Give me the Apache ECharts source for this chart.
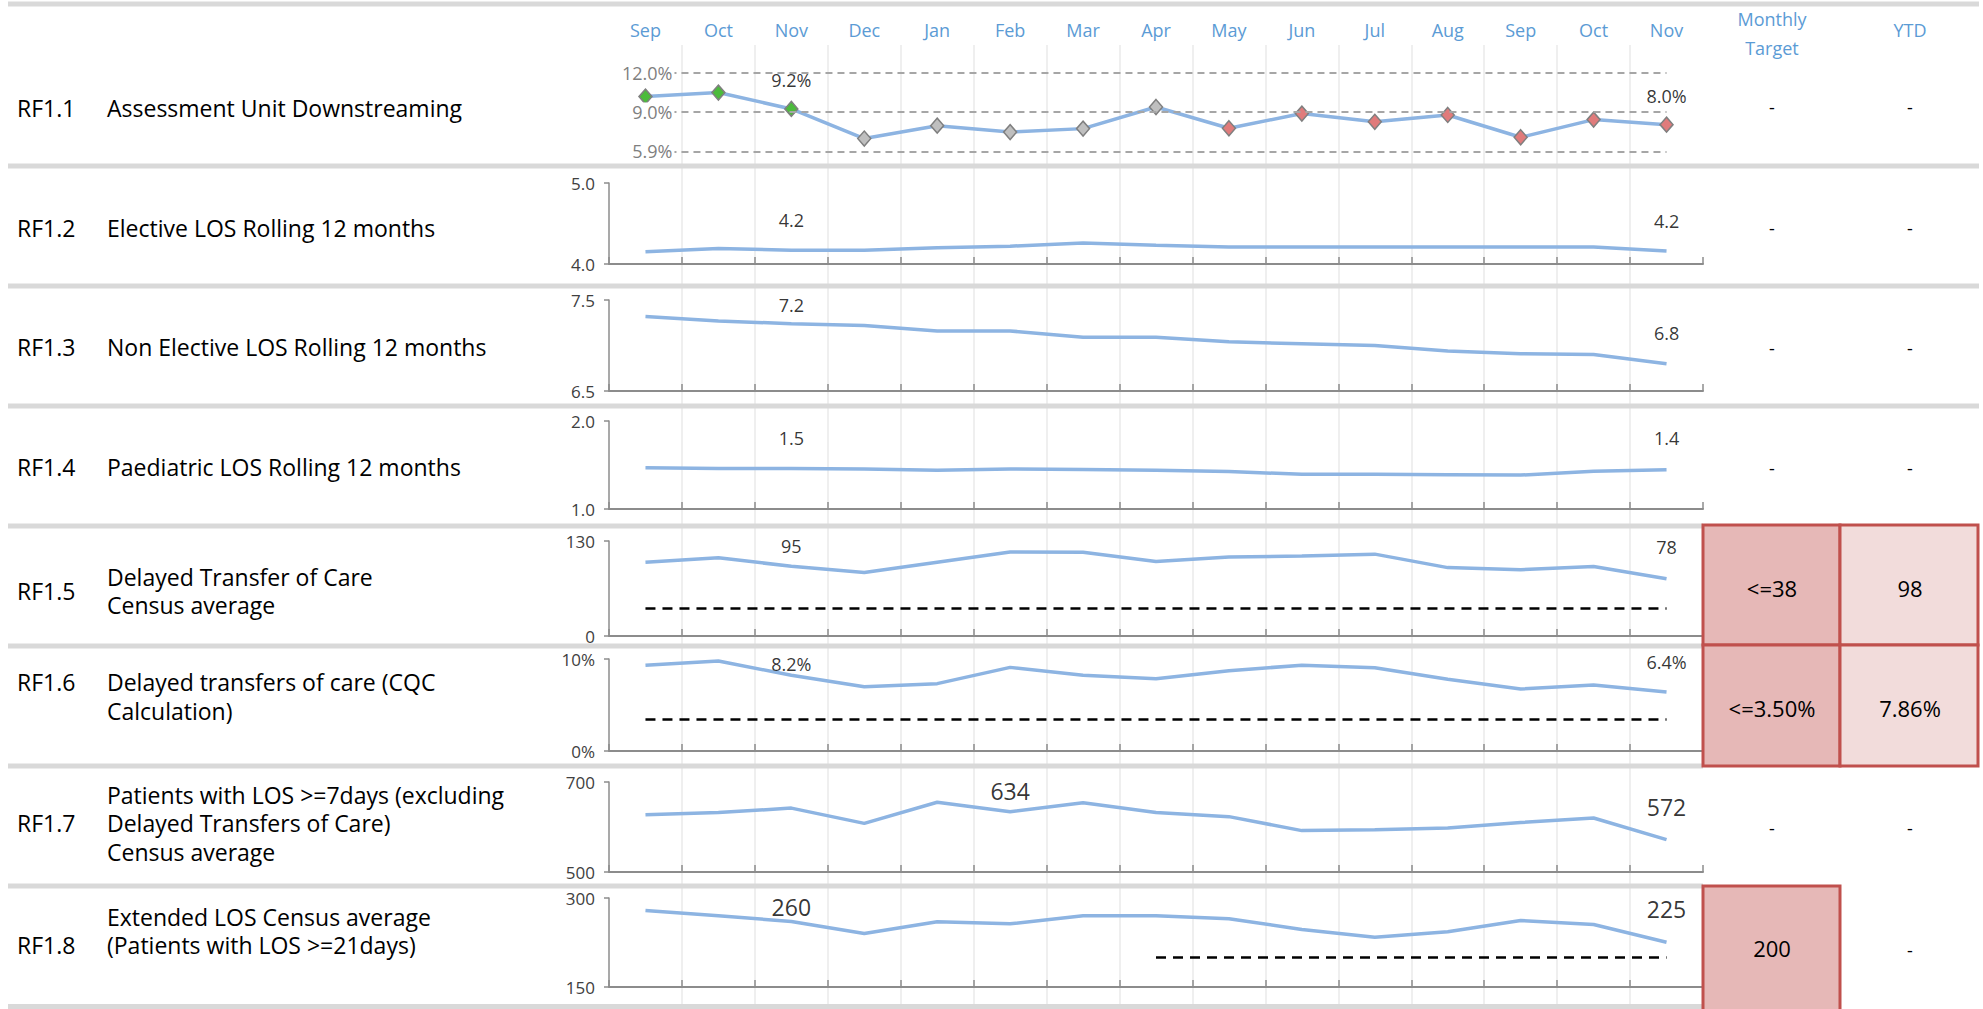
<!DOCTYPE html>
<html>
<head>
<meta charset="utf-8">
<script src="https://cdn.jsdelivr.net/npm/echarts@6/dist/echarts.min.js"></script>
<style>
html,body{margin:0;padding:0;background:#fff;}
#chart{width:1983px;height:1009px;}
</style>
</head>
<body>
<div id="chart"></div>
<script>
// ---------------- DATA ----------------
const months = ['Sep','Oct','Nov','Dec','Jan','Feb','Mar','Apr','May','Jun','Jul','Aug','Sep','Oct','Nov'];
const codes = ['RF1.1','RF1.2','RF1.3','RF1.4','RF1.5','RF1.6','RF1.7','RF1.8'];
const names = [
  'Assessment Unit Downstreaming',
  'Elective LOS Rolling 12 months',
  'Non Elective LOS Rolling 12 months',
  'Paediatric LOS Rolling 12 months',
  'Delayed Transfer of Care\nCensus average',
  'Delayed transfers of care (CQC\nCalculation)',
  'Patients with LOS >=7days (excluding\nDelayed Transfers of Care)\nCensus average',
  'Extended LOS Census average\n(Patients with LOS >=21days)'
];
const rf11 = [10.16, 10.47, 9.2, 6.9, 7.9, 7.4, 7.67, 9.35, 7.7, 8.84, 8.2, 8.73, 7.0, 8.37, 7.98];
const rf11Status = ['g','g','g','n','n','n','n','n','r','r','r','r','r','r','r'];
const rf11Bands = [12.0, 9.0, 5.9];
const rf12 = [4.15, 4.19, 4.17, 4.17, 4.20, 4.22, 4.26, 4.23, 4.21, 4.21, 4.21, 4.21, 4.21, 4.21, 4.16];
const rf13 = [7.32, 7.27, 7.24, 7.22, 7.16, 7.16, 7.09, 7.09, 7.04, 7.02, 7.00, 6.94, 6.91, 6.90, 6.80];
const rf14 = [1.47, 1.46, 1.46, 1.455, 1.44, 1.455, 1.45, 1.44, 1.425, 1.395, 1.395, 1.39, 1.385, 1.43, 1.445];
const rf15 = [101, 107, 95.4, 87, 101, 115, 114.5, 102, 108, 109.5, 112, 93.6, 90.8, 95, 78.4];
const rf16 = [9.32, 9.78, 8.23, 6.99, 7.32, 9.09, 8.23, 7.86, 8.73, 9.32, 9.05, 7.79, 6.74, 7.17, 6.41];
const rf17 = [627, 632, 642, 608, 655, 634, 654, 632, 623, 592, 594, 598, 610, 620, 572];
const rf18 = [279, 270, 260.4, 240, 260, 256.5, 270, 270, 265, 247, 234, 243, 262, 255.4, 225.4];
const rf15Target = 38;
const rf16Target = 3.5;
const rf18Target = 200;
const rf18TargetFrom = 7;   // target line starts at Apr
const axisMin = [5, 4.0, 6.5, 1.0, 0, 0, 500, 150];
const axisMax = [13, 5.0, 7.5, 2.0, 130, 10, 700, 300];
const labelIdx = [[2,14],[2,14],[2,14],[2,14],[2,14],[2,14],[5,14],[2,14]];
const monthlyTarget = ['-','-','-','-','<=38','<=3.50%','-','200'];
const ytdValues = ['-','-','-','-','98','7.86%','-','-'];

// ---------------- STYLE / LAYOUT ----------------
const FONT = '"Open Sans", "Liberation Sans", sans-serif';
const BLUE_LINE = '#8db4e2';
const AXIS_GRAY = '#8c8c8c';
const HEADER_BLUE = '#5b9bd5';
const PLOT_LEFT = 609, PLOT_W = 1094;
const rowGrid = [
  {top: 60, height: 103},
  {top: 183, height: 81},
  {top: 300, height: 91},
  {top: 421, height: 88},
  {top: 541, height: 95},
  {top: 659, height: 92},
  {top: 782, height: 90},
  {top: 898, height: 89}
];
const labelDy = [[20,36],[37,38],[5,33],[17,17],[5,6],[5,3],[9,25],[9,11]];
const labelSize = [18,18,18,18,18,18,23,23];
const rowTextY = [108, 228, 347, 467, 591, 696.5, 823, 931];
const codeY    = [108, 228, 347, 467, 591, 682, 823, 945];
const dashY    = [107, 228, 348, 468, 588, 708, 828, 950];
const statusColor = {g: '#4cbb3c', n: '#bfbfbf', r: '#e07b7b'};

const seriesValues = [rf11, rf12, rf13, rf14, rf15, rf16, rf17, rf18];
const fmt = [
  v => v.toFixed(1) + '%',
  v => v.toFixed(1),
  v => v.toFixed(1),
  v => v.toFixed(1),
  v => v.toFixed(0),
  v => v.toFixed(1) + '%',
  v => v.toFixed(0),
  v => v.toFixed(0)
];
const axisFmt = [
  v => v,
  v => v.toFixed(1),
  v => v.toFixed(1),
  v => v.toFixed(1),
  v => String(v),
  v => v + '%',
  v => String(v),
  v => String(v)
];

// ---------------- BUILD OPTION ----------------
const grid = [{left: PLOT_LEFT, top: 45, width: PLOT_W, height: 962}];
const xAxis = [{
  gridIndex: 0, type: 'category', data: months, position: 'top', boundaryGap: true,
  axisLine: {show: false}, axisTick: {show: false},
  axisLabel: {interval: 0, color: HEADER_BLUE, fontSize: 18, fontFamily: FONT, margin: 6},
  splitLine: {show: true, interval: 0, showMinLine: false, showMaxLine: false,
              lineStyle: {color: '#efefef', width: 2}}
}];
const yAxis = [{gridIndex: 0, type: 'value', show: false, min: 0, max: 1}];
const series = [];

rowGrid.forEach((g, r) => {
  const gi = r + 1;
  grid.push({left: PLOT_LEFT, width: PLOT_W, top: g.top, height: g.height});
  if (r === 0) {
    xAxis.push({gridIndex: gi, type: 'category', data: months, boundaryGap: true, show: false});
    yAxis.push({gridIndex: gi, type: 'value', min: axisMin[0], max: axisMax[0], show: false});
  } else {
    xAxis.push({
      gridIndex: gi, type: 'category', data: months, boundaryGap: true,
      axisLine: {show: true, lineStyle: {color: AXIS_GRAY, width: 2}},
      axisTick: {show: true, inside: true, length: 7, interval: 0, lineStyle: {color: AXIS_GRAY, width: 1.5}},
      axisLabel: {show: false}, splitLine: {show: false}
    });
    yAxis.push({
      gridIndex: gi, type: 'value', min: axisMin[r], max: axisMax[r],
      axisLine: {show: true, lineStyle: {color: AXIS_GRAY, width: 1.5}},
      axisTick: {show: true, length: 5, customValues: [axisMin[r], axisMax[r]], lineStyle: {color: AXIS_GRAY, width: 1.5}},
      axisLabel: {customValues: [axisMin[r], axisMax[r]], formatter: axisFmt[r], fontSize: 17,
                  color: '#404040', fontFamily: FONT, margin: 14},
      splitLine: {show: false}
    });
  }
  const vals = seriesValues[r];
  const main = {
    type: 'line', xAxisIndex: gi, yAxisIndex: gi, z: 3, silent: true,
    lineStyle: {color: BLUE_LINE, width: 3.5}, animation: false
  };
  if (r === 0) {
    main.symbol = 'diamond';
    main.symbolSize = [13, 15];
    main.showAllSymbol = true;
    main.data = vals.map((v, i) => ({
      value: v,
      itemStyle: {color: statusColor[rf11Status[i]], borderColor: '#7f7f7f', borderWidth: 1.5}
    }));
  } else {
    main.symbol = 'none';
    main.data = vals;
  }
  let tgt = null;
  if (r === 4) tgt = [[{coord: [0, rf15Target]}, {coord: [14, rf15Target]}]];
  if (r === 5) tgt = [[{coord: [0, rf16Target]}, {coord: [14, rf16Target]}]];
  if (r === 7) tgt = [[{coord: [rf18TargetFrom, rf18Target]}, {coord: [14, rf18Target]}]];
  if (tgt) {
    main.markLine = {
      silent: true, symbol: ['none', 'none'], animation: false,
      label: {show: false},
      lineStyle: {type: [10, 7], color: '#000', width: 2.5},
      data: tgt
    };
  }
  series.push(main);

  if (r === 0) {
    series.push({
      type: 'line', xAxisIndex: gi, yAxisIndex: gi, z: 1, data: [], silent: true,
      markLine: {
        silent: true, symbol: ['none', 'none'], animation: false,
        lineStyle: {type: [7, 5], color: '#a6a6a6', width: 2},
        data: rf11Bands.map(b => [
          {coord: [0, b], label: {show: true, position: 'start', distance: -29,
            formatter: b.toFixed(1) + '%', color: '#7f7f7f', fontSize: 18, fontFamily: FONT,
            backgroundColor: '#ffffff', padding: [0, 2, 0, 0]}},
          {coord: [14, b]}
        ])
      }
    });
  }

  series.push({
    type: 'scatter', xAxisIndex: gi, yAxisIndex: gi, z: 6, silent: true, animation: false,
    symbolSize: 1, itemStyle: {color: 'rgba(0,0,0,0)'},
    data: labelIdx[r].map((i, k) => ({
      value: [i, axisMax[r]],
      label: {show: true, position: 'inside', offset: [0, labelDy[r][k]],
              formatter: fmt[r](vals[i]), color: '#000', fontSize: labelSize[r], fontFamily: FONT}
    }))
  });
});

// ---------------- GRAPHIC (table decoration & text) ----------------
const graphic = [];
const SEP = '#d9d9d9';
[4, 166, 286, 406].forEach(y => graphic.push({type: 'rect', z: 10, silent: true,
  shape: {x: 8, y: y - 2.5, width: 1971, height: 5}, style: {fill: SEP}}));
[526, 646, 766, 886, 1006.5].forEach(y => graphic.push({type: 'rect', z: 10, silent: true,
  shape: {x: 8, y: y - 2.5, width: 1695, height: 5}, style: {fill: SEP}}));

function txt(s, x, y, opts) {
  opts = opts || {};
  return {type: 'text', z: 20, silent: true, style: {
    text: s, x: x, y: y, fill: opts.fill || '#000',
    fontSize: opts.size || 23, fontFamily: FONT,
    align: opts.align || 'left', textAlign: opts.align || 'left',
    verticalAlign: 'middle', textVerticalAlign: 'middle',
    lineHeight: opts.lh || 28.5
  }};
}

// red target cells
const RED = '#c0504d';
function cell(x, y, w, h, fill) {
  return {type: 'rect', z: 15, silent: true, shape: {x: x, y: y, width: w, height: h},
          style: {fill: fill, stroke: RED, lineWidth: 3}};
}
graphic.push(cell(1703, 525, 137, 120, '#e6b8b7'));
graphic.push(cell(1840, 525, 138, 120, '#f2dcdb'));
graphic.push(cell(1703, 645, 137, 121, '#e6b8b7'));
graphic.push(cell(1840, 645, 138, 121, '#f2dcdb'));
graphic.push(cell(1703, 886, 137, 130, '#e6b8b7'));

// headers
graphic.push(txt('Monthly\nTarget', 1772, 33, {fill: HEADER_BLUE, size: 18, align: 'center', lh: 29}));
graphic.push(txt('YTD', 1910, 30, {fill: HEADER_BLUE, size: 18, align: 'center'}));

// row texts
codes.forEach((c, r) => {
  graphic.push(txt(c, 17, codeY[r]));
  graphic.push(txt(names[r], 107, rowTextY[r]));
  const mt = monthlyTarget[r], yt = ytdValues[r];
  graphic.push(txt(mt, 1772, r === 7 ? 948 : dashY[r], {align: 'center', size: mt === '-' ? 18 : 22}));
  graphic.push(txt(yt, 1910, dashY[r], {align: 'center', size: yt === '-' ? 18 : 22}));
});

const chart = echarts.init(document.getElementById('chart'), null, {renderer: 'svg'});
chart.setOption({
  animation: false,
  backgroundColor: '#ffffff',
  textStyle: {fontFamily: FONT},
  grid: grid, xAxis: xAxis, yAxis: yAxis, series: series, graphic: graphic
});
</script>
</body>
</html>
